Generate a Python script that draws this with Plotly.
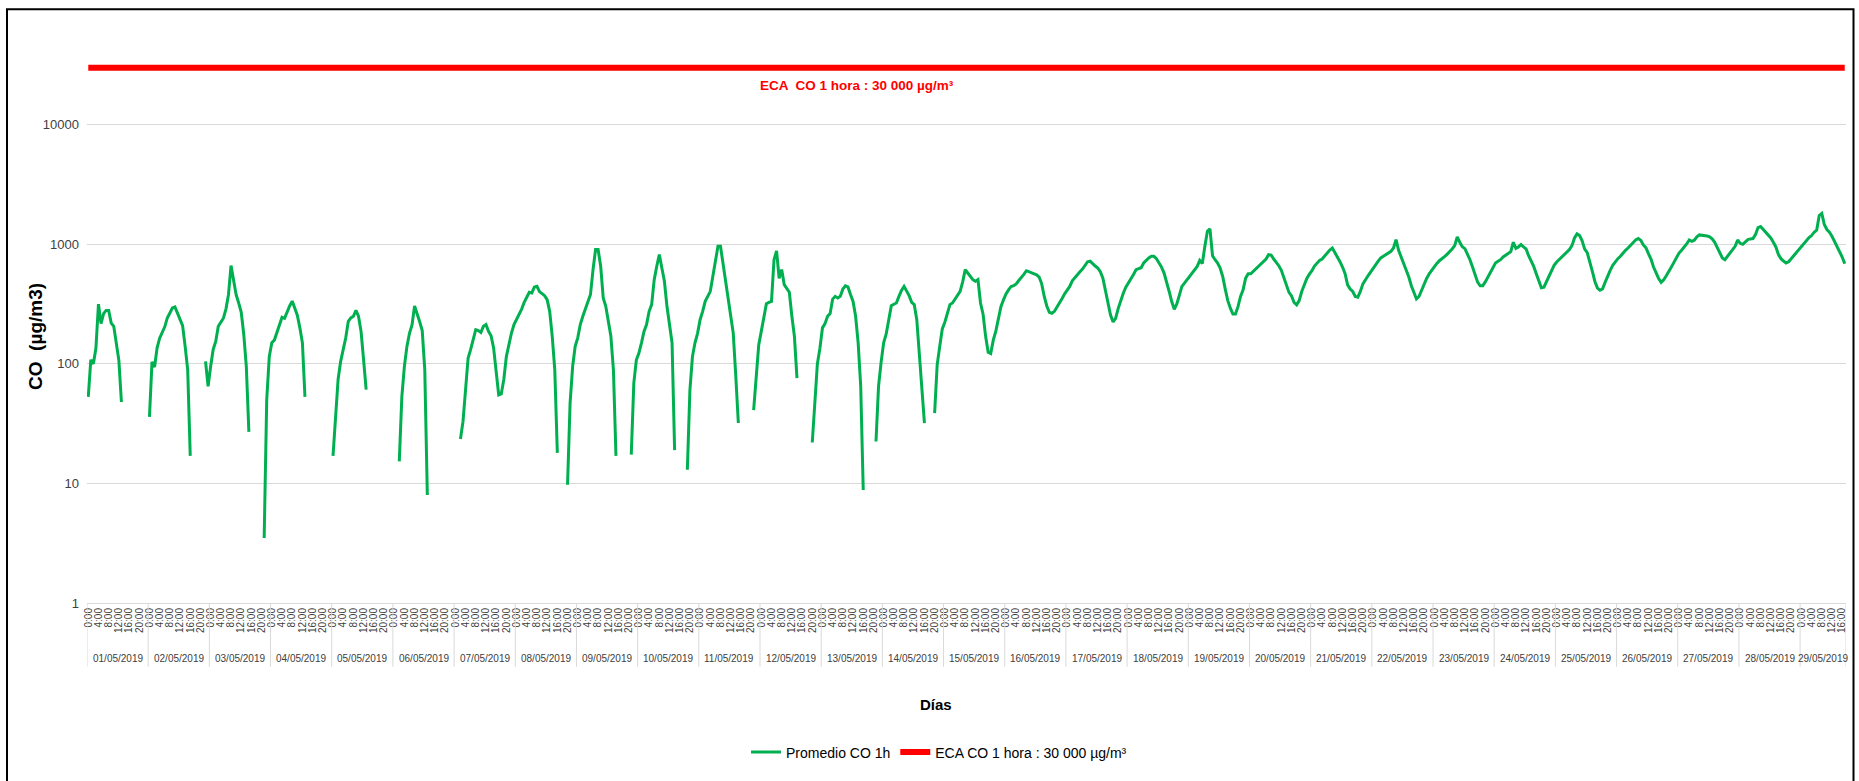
import plotly.graph_objects as go

N = None
# Hourly CO averages (µg/m3), one list per day, 0:00 .. 23:00
d01 = [53, 108, 100, 135, 316, 217, 263, 280, 280, 219, 206, 149, 107, 48, N, N, N, N, N, N, N, N, N, N]
d02 = [36, 104, 94, 136, 164, 184, 204, 242, 263, 293, 299, 266, 240, 209, 140, 89, 17, N, N, N, N, N, 105, 65]
d03 = [95, 132, 154, 206, 223, 241, 287, 379, 663, 506, 379, 323, 270, 176, 95, 27, N, N, N, N, N, 3.5, 50, 115]
d04 = [150, 158, 185, 215, 245, 240, 275, 305, 335, 290, 255, 200, 150, 53, N, N, N, N, N, N, N, N, N, N]
d05 = [17, 40, 74, 105, 132, 165, 227, 242, 250, 280, 250, 187, 108, 61, N, N, N, N, N, N, N, N, N, N]
d06 = [N, N, 15.3, 53, 95, 140, 180, 212, 305, 265, 225, 190, 89, 8, N, N, N, N, N, N, N, N, N, N]
d07 = [N, N, 23.5, 33, 61, 112, 132, 159, 193, 190, 183, 206, 213, 187, 172, 136, 84, 55, 56, 74, 115, 150, 181, 213]
d08 = [234, 258, 287, 327, 356, 397, 392, 440, 445, 402, 387, 372, 344, 275, 170, 89, 18, N, N, N, 9.75, 47, 95, 140]
d09 = [165, 213, 250, 284, 323, 380, 614, 903, 903, 655, 356, 303, 227, 170, 89, 17, N, N, N, N, N, 17.4, 69, 108]
d10 = [123, 150, 187, 213, 275, 313, 506, 655, 820, 634, 490, 303, 220, 150, 19, N, N, N, N, 13, 60, 115, 150, 180]
d11 = [234, 275, 333, 367, 404, 540, 744, 962, 962, 698, 475, 344, 266, 181, 79, 32, N, N, N, N, N, 41, 81, 144]
d12 = [187, 242, 318, 327, 333, 744, 880, 520, 614, 460, 430, 397, 250, 170, 76, N, N, N, N, N, 22, 50, 100, 135]
d13 = [200, 217, 250, 263, 348, 367, 356, 367, 423, 450, 440, 380, 333, 250, 150, 65, 8.8, N, N, N, N, 22.4, 65, 103]
d14 = [150, 178, 242, 306, 315, 323, 367, 412, 445, 404, 372, 327, 313, 234, 127, 65, 32, N, N, N, 38.7, 98, 140, 196]
d15 = [223, 270, 313, 323, 348, 372, 404, 485, 614, 575, 540, 506, 490, 506, 323, 260, 170, 125, 122, 158, 188, 236, 301, 343]
d16 = [385, 416, 444, 450, 467, 498, 525, 560, 601, 589, 574, 567, 556, 532, 467, 366, 305, 270, 265, 275, 297, 326, 352, 385]
d17 = [410, 444, 495, 528, 552, 589, 621, 662, 715, 724, 684, 658, 633, 589, 521, 416, 317, 256, 224, 240, 290, 338, 390, 438]
d18 = [473, 521, 560, 613, 625, 637, 697, 734, 768, 793, 793, 758, 697, 645, 574, 489, 403, 332, 286, 317, 370, 444, 473, 505]
d19 = [545, 582, 613, 653, 734, 689, 962, 1285, 1345, 803, 743, 697, 633, 538, 422, 338, 292, 261, 261, 301, 366, 416, 521, 567]
d20 = [567, 593, 621, 653, 689, 720, 753, 819, 813, 753, 711, 662, 605, 532, 458, 396, 370, 326, 311, 338, 403, 467, 518, 563]
d21 = [601, 658, 697, 734, 753, 798, 851, 896, 931, 857, 798, 715, 645, 567, 458, 422, 403, 366, 361, 403, 467, 512, 545, 586]
d22 = [633, 679, 724, 768, 793, 813, 845, 873, 931, 1094, 891, 783, 706, 621, 532, 450, 390, 349, 366, 416, 467, 518, 567, 605]
d23 = [658, 692, 729, 753, 788, 824, 863, 914, 975, 1153, 1040, 955, 920, 835, 743, 645, 563, 482, 450, 450, 485, 532, 586, 653]
d24 = [697, 720, 743, 783, 813, 835, 867, 1040, 925, 950, 994, 950, 914, 803, 729, 653, 567, 485, 433, 438, 485, 538, 613, 667]
d25 = [711, 743, 783, 819, 857, 902, 975, 1130, 1222, 1183, 1070, 910, 850, 725, 593, 489, 430, 413, 424, 480, 545, 605, 667, 720]
d26 = [758, 793, 845, 891, 931, 975, 1026, 1087, 1116, 1081, 987, 937, 835, 753, 645, 574, 518, 480, 505, 545, 601, 645, 706, 778]
d27 = [845, 891, 937, 1006, 1087, 1059, 1081, 1153, 1198, 1191, 1198, 1175, 1153, 1109, 1040, 937, 851, 768, 743, 793, 845, 902, 962, 1087]
d28 = [1019, 1000, 1047, 1094, 1109, 1116, 1206, 1380, 1407, 1328, 1245, 1198, 1130, 1040, 950, 819, 758, 724, 697, 715, 758, 793, 845, 902]
d29 = [955, 1013, 1081, 1137, 1183, 1262, 1312, 1742, 1811, 1463, 1328, 1262, 1167, 1059, 962, 867, 783, 689]

dias = ["01/05/2019", "02/05/2019", "03/05/2019", "04/05/2019", "05/05/2019", "06/05/2019",
        "07/05/2019", "08/05/2019", "09/05/2019", "10/05/2019", "11/05/2019", "12/05/2019",
        "13/05/2019", "14/05/2019", "15/05/2019", "16/05/2019", "17/05/2019", "18/05/2019",
        "19/05/2019", "20/05/2019", "21/05/2019", "22/05/2019", "23/05/2019", "24/05/2019",
        "25/05/2019", "26/05/2019", "27/05/2019", "28/05/2019", "29/05/2019"]
horas_etiqueta = ["0:00", "4:00", "8:00", "12:00", "16:00", "20:00"]
eca_co_1h = 30000
y_ticks = [1, 10, 100, 1000, 10000]

por_dia = [d01, d02, d03, d04, d05, d06, d07, d08, d09, d10, d11, d12, d13, d14, d15,
           d16, d17, d18, d19, d20, d21, d22, d23, d24, d25, d26, d27, d28, d29]

co = []
for d in por_dia:
    co.extend(d)
n = len(co)
x = list(range(n))
eca = [eca_co_1h] * n

tickvals, ticktext = [], []
for i in range(n):
    h = i % 24
    if h % 4 == 0:
        tickvals.append(i)
        ticktext.append(horas_etiqueta[h // 4])

# geometry
W, H = 1859, 781
ml, mr, mt, mb = 87, 13, 45, 176
pw, ph = W - ml - mr, H - mt - mb
bottom = H - mb


def px_x(p):
    return (p - ml) / pw


def px_y(p):
    return (bottom - p) / ph


FONT = "Liberation Sans, Arial, sans-serif"

fig = go.Figure()
fig.add_trace(go.Scatter(x=x, y=co, mode="lines", name="Promedio CO 1h",
                         line=dict(color="#00B050", width=3), connectgaps=False))
fig.add_trace(go.Scatter(x=x, y=eca, mode="lines", name="ECA CO 1 hora : 30 000 µg/m³",
                         line=dict(color="#FF0000", width=6)))

shapes = []
starts = []
pos = 0
for d in por_dia:
    starts.append(pos)
    pos += len(d)
starts.append(pos)
for s in starts:
    shapes.append(dict(type="line", xref="x", yref="paper", x0=s - 0.5, x1=s - 0.5,
                       y0=0, y1=px_y(669), line=dict(color="#D9D9D9", width=1)))
# outer frame
shapes.append(dict(type="rect", xref="paper", yref="paper",
                   x0=px_x(7), x1=px_x(1853.5), y0=px_y(800), y1=px_y(9),
                   line=dict(color="#000000", width=2), fillcolor="rgba(0,0,0,0)"))

annotations = []
for k, lab in enumerate(dias):
    c = (starts[k] + starts[k + 1] - 1) / 2
    annotations.append(dict(x=c, y=px_y(661), xref="x", yref="paper", text=lab,
                            showarrow=False, xanchor="center", yanchor="middle",
                            font=dict(family=FONT, size=10, color="#404040")))
annotations.append(dict(x=px_x(857), y=px_y(86), xref="paper", yref="paper",
                        text="<b>ECA  CO 1 hora : 30 000 µg/m³</b>", showarrow=False,
                        xanchor="center", yanchor="middle",
                        font=dict(family=FONT, size=13.5, color="#FF0000")))
annotations.append(dict(x=px_x(36), y=px_y(338), xref="paper", yref="paper",
                        text="<b>CO  (µg/m3)</b>", textangle=-90, showarrow=False,
                        xanchor="center", yanchor="middle",
                        font=dict(family=FONT, size=19, color="#000000")))
annotations.append(dict(x=px_x(936), y=px_y(707), xref="paper", yref="paper",
                        text="<b>Días</b>", showarrow=False,
                        xanchor="center", yanchor="middle",
                        font=dict(family=FONT, size=15, color="#000000")))

fig.update_layout(
    width=W, height=H,
    margin=dict(l=ml, r=mr, t=mt, b=mb, pad=0),
    paper_bgcolor="white", plot_bgcolor="white",
    showlegend=True,
    legend=dict(orientation="h", x=px_x(939), y=px_y(755), xanchor="center", yanchor="middle",
                font=dict(family=FONT, size=14, color="#000000"),
                bgcolor="rgba(0,0,0,0)", itemwidth=30),
    shapes=shapes,
    annotations=annotations,
    xaxis=dict(range=[-0.5, n - 0.5], tickmode="array", tickvals=tickvals, ticktext=ticktext,
               tickangle=-90, showgrid=False, zeroline=False, showline=True,
               linecolor="#D9D9D9", linewidth=1, ticks="",
               tickfont=dict(family=FONT, size=10, color="#404040")),
    yaxis=dict(type="log", range=[0, ph / 120.0], tickmode="array", tickvals=y_ticks,
               ticktext=[str(v) for v in y_ticks], showgrid=True, gridcolor="#D9D9D9",
               gridwidth=1, zeroline=False, showline=False, ticks="",
               ticklabelstandoff=7,
               tickfont=dict(family=FONT, size=13, color="#404040")),
)

fig.write_html("out.html", config={"displayModeBar": False},
               post_script="document.body.style.margin='0px';document.body.style.overflow='hidden';")
